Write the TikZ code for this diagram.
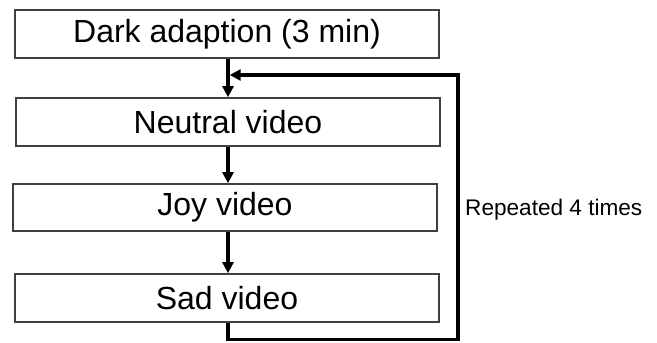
\documentclass[tikz,border=0pt]{standalone}
\usepackage{fontspec}
\setmainfont{Liberation Sans}
\usetikzlibrary{arrows.meta}
\begin{document}
\begin{tikzpicture}[x=1pt,y=-1pt,
  stepbox/.style={draw=black!75,line width=1.7pt,minimum width=424pt,inner sep=0pt,font=\fontsize{32}{36}\selectfont},
  flow/.style={line width=3.4pt,-{Triangle[length=11pt,width=11pt]}}]
\useasboundingbox (0,0) rectangle (657,343);
\node[stepbox,minimum height=48pt] (dark) at (227,34) {Dark adaption (3 min)};
\node[stepbox,minimum height=48pt] (neutral) at (228,122) {Neutral video};
\node[stepbox,minimum height=47pt] (joy) at (225,207.5) {Joy video};
\node[stepbox,minimum height=48pt] (sad) at (227,298) {Sad video};
\coordinate (ax) at (228,0);
\coordinate (lb) at (458,339.5);
\coordinate (lt) at (458,75);
\draw[flow] (dark.south -| ax) -- (neutral.north -| ax);
\draw[flow] (neutral.south -| ax) -- (joy.north -| ax);
\draw[flow] (joy.south -| ax) -- (sad.north -| ax);
\draw[flow] (sad.south -| ax) -- (ax |- lb) -- (lb) -- (lt) -- ([xshift=1.7pt]ax |- lt);
\node[anchor=west,inner sep=0pt,font=\fontsize{22.6}{26}\selectfont] (rep) at (465,210) {Repeated 4 times};
\end{tikzpicture}
\end{document}
